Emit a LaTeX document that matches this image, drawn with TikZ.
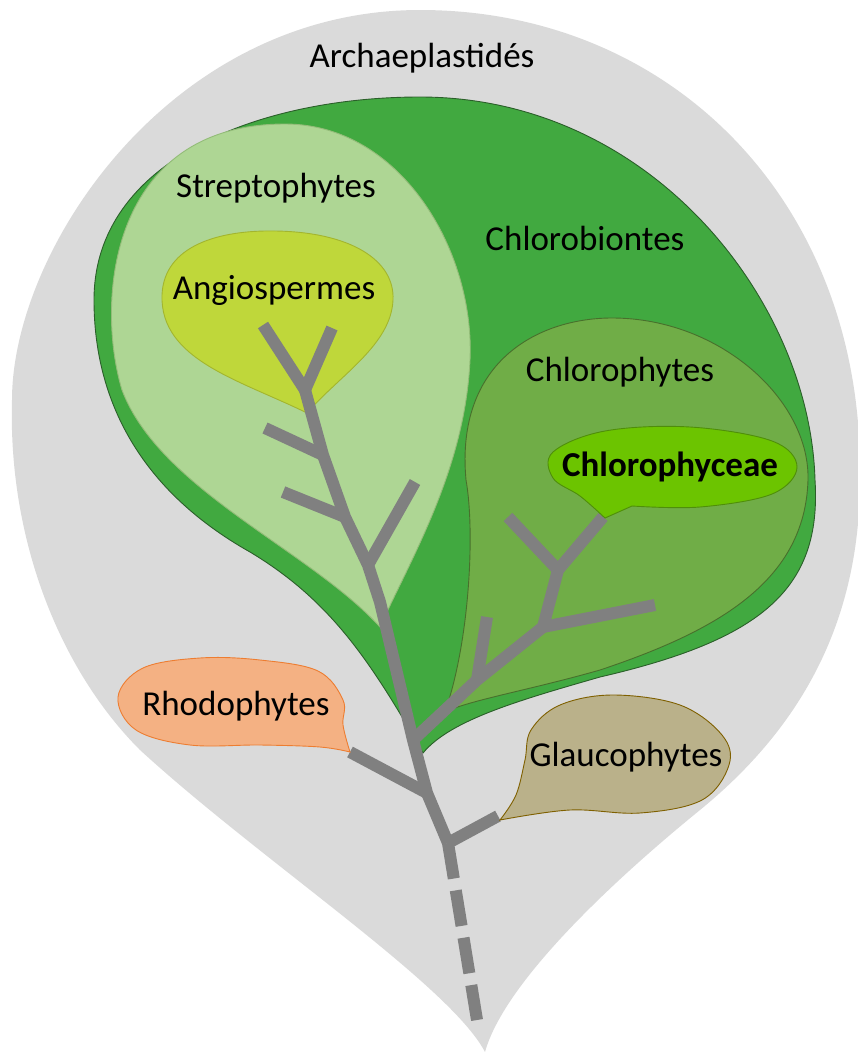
\documentclass[tikz,border=0pt]{standalone}
\usepackage{fontspec}
\setmainfont{Carlito}
\begin{document}
\definecolor{leafgray}{HTML}{DADADA}
\definecolor{chlorob}{HTML}{41A940}
\definecolor{chlorobline}{HTML}{2B5F2A}
\definecolor{strepto}{HTML}{AED694}
\definecolor{streptoline}{HTML}{93BC78}
\definecolor{angio}{HTML}{BFD73A}
\definecolor{angioline}{HTML}{A3B52E}
\definecolor{chloroph}{HTML}{70AD47}
\definecolor{chlorophline}{HTML}{48702C}
\definecolor{chlorocy}{HTML}{6CC400}
\definecolor{chlorocyline}{HTML}{4F8E0A}
\definecolor{rhodo}{HTML}{F4B183}
\definecolor{rhodoline}{HTML}{ED7D31}
\definecolor{glauco}{HTML}{BAB18A}
\definecolor{glaucoline}{HTML}{7F6000}
\definecolor{treegray}{HTML}{808080}
\tikzset{
  branch/.style={draw=treegray, line width=12pt, line cap=butt, line join=round},
  lbl/.style={font=\fontsize{35}{42}\selectfont, inner sep=0pt},
  blob/.style={line width=0.9pt}
}
\begin{tikzpicture}[x=1pt,y=-1pt]
\useasboundingbox (0,0) rectangle (858,1052);
% outer leaf
\fill[leafgray] (485,1052) .. controls (450,985) and (260,860) .. (140,750)
  .. controls (60,670) and (8,540) .. (12,400)
  .. controls (12,250) and (170,10) .. (420,10)
  .. controls (670,10) and (860,200) .. (860,470)
  .. controls (862,610) and (810,720) .. (700,810)
  .. controls (620,875) and (505,980) .. (485,1052) -- cycle;
% Chlorobiontes
\filldraw[blob, fill=chlorob, draw=chlorobline] (423,753) .. controls (370,660) and (330,600) .. (250,552)
  .. controls (140,490) and (94,400) .. (94,300)
  .. controls (94,160) and (260,97) .. (420,97)
  .. controls (650,97) and (810,300) .. (815,480)
  .. controls (822,590) and (760,640) .. (600,677)
  .. controls (520,700) and (450,720) .. (423,753) -- cycle;
% Streptophytes
\filldraw[blob, fill=strepto, draw=streptoline] (380,627) .. controls (310,550) and (160,490) .. (122,390)
  .. controls (95,300) and (110,124) .. (285,124)
  .. controls (400,124) and (475,250) .. (470,360)
  .. controls (465,470) and (410,560) .. (380,627) -- cycle;
% Angiospermes
\filldraw[blob, fill=angio, draw=angioline] (307,413) .. controls (240,380) and (160,360) .. (162,295)
  .. controls (164,245) and (220,230) .. (275,231)
  .. controls (350,232) and (395,260) .. (393,300)
  .. controls (391,345) and (340,375) .. (307,413) -- cycle;
% Chlorophytes
\filldraw[blob, fill=chloroph, draw=chlorophline] (445,712) .. controls (470,640) and (475,530) .. (466,480)
  .. controls (455,360) and (540,318) .. (612,318)
  .. controls (720,318) and (810,400) .. (808,480)
  .. controls (805,580) and (720,630) .. (600,670)
  .. controls (530,690) and (470,700) .. (445,712) -- cycle;
% tree
\draw[branch] (305,390) -- (323,455) -- (345,517) -- (368,565) -- (380,602) -- (413,740) -- (427,793) -- (448,843);
\draw[branch] (263,325) -- (305,390) -- (332,328);
\draw[branch] (265,428) -- (323,455);
\draw[branch] (283,492) -- (345,517);
\draw[branch] (415,482) -- (368,565);
\draw[branch] (413,740) -- (477,680) -- (543,627) -- (558,570) -- (603,517);
\draw[branch] (477,680) -- (487,617);
\draw[branch] (543,627) -- (655,605);
\draw[branch] (558,570) -- (508,517);
\draw[branch] (350,752) -- (427,793);
\draw[branch] (498,816) -- (448,843);
\draw[branch, dash pattern=on 36pt off 12pt] (448,843) -- (477,1020);
% Chlorophyceae bubble
\filldraw[blob, fill=chlorocy, draw=chlorocyline] (605,518) -- (632,506) plot[smooth, tension=0.6] coordinates {(632,506) (700,507) (772,494) (797,467) (772,441) (690,427) (605,431) (553,452) (553,478) (580,496) (605,518)} -- cycle;
% Rhodophytes bubble
\filldraw[blob, fill=rhodo, draw=rhodoline] plot[smooth, tension=0.6] coordinates {(350,752) (343,725) (343,700) (318,671) (260,660) (200,658) (143,668) (118,697) (136,730) (190,745) (260,745) (320,747) (350,752)} -- cycle;
% Glaucophytes bubble
\filldraw[blob, fill=glauco, draw=glaucoline] plot[smooth, tension=0.6] coordinates {(500,820) (516,795) (525,760) (531,730) (560,705) (613,695) (680,705) (722,735) (729,765) (702,800) (640,813) (570,810) (500,820)} -- cycle;
% labels
\node[lbl] (archae) at (422,58) {Archaeplastidés};
\node[lbl] (strep) at (276,188) {Streptophytes};
\node[lbl] (chlorobt) at (585,238) {Chlorobiontes};
\node[lbl] (angiot) at (274,290) {Angiospermes};
\node[lbl] (chlorpht) at (620,372) {Chlorophytes};
\node[lbl, font=\fontsize{35}{42}\selectfont\bfseries] (chlorcyt) at (670,467) {Chlorophyceae};
\node[lbl] (rhodot) at (236,706) {Rhodophytes};
\node[lbl] (glaucot) at (626,757) {Glaucophytes};
\end{tikzpicture}
\end{document}
